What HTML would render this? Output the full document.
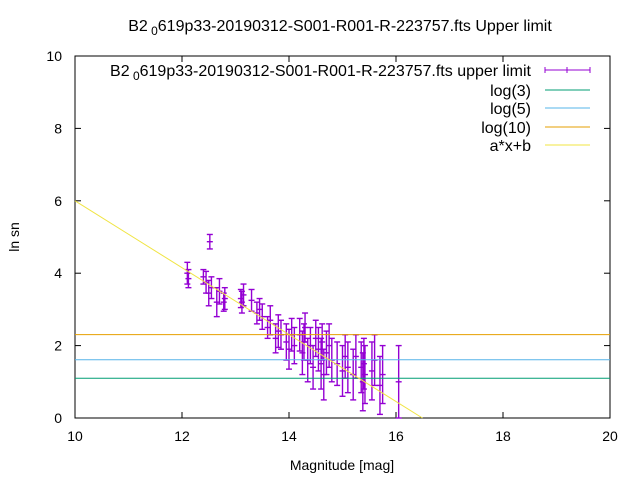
<!DOCTYPE html>
<html><head><meta charset="utf-8"><style>
body{margin:0;background:#fff}
svg text{font-family:"Liberation Sans",sans-serif;font-size:14px;fill:#000}
svg text.big{font-size:16px}
</style></head><body>
<svg id="chart" width="640" height="480" xmlns="http://www.w3.org/2000/svg">
<rect width="640" height="480" fill="#fff"/>
<text class="big" x="340" y="31" text-anchor="middle">B2<tspan dy="4" font-size="12"> 0</tspan><tspan dy="-4">619p33-20190312-S001-R001-R-223757.fts Upper limit</tspan></text>
<g id="axes"></g>
<g id="marks"></g>
<text x="342" y="470" text-anchor="middle">Magnitude [mag]</text>
<text transform="translate(19,237) rotate(-90)" text-anchor="middle">ln sn</text>
<g>
<text class="big" x="531" y="76" text-anchor="end">B2<tspan dy="4" font-size="12"> 0</tspan><tspan dy="-4">619p33-20190312-S001-R001-R-223757.fts upper limit</tspan></text>
<line x1="545" y1="70" x2="590" y2="70" stroke="#9400d3"/><line x1="545" y1="67" x2="545" y2="73" stroke="#9400d3"/><line x1="590" y1="67" x2="590" y2="73" stroke="#9400d3"/><line x1="567" y1="67" x2="567" y2="73" stroke="#9400d3"/>
<text class="big" x="531" y="96" text-anchor="end">log(3)</text><line x1="545" y1="90" x2="590" y2="90" stroke="#009e73"/>
<text class="big" x="531" y="114" text-anchor="end">log(5)</text><line x1="545" y1="108" x2="590" y2="108" stroke="#56b4e9"/>
<text class="big" x="531" y="133" text-anchor="end">log(10)</text><line x1="545" y1="127" x2="590" y2="127" stroke="#e69f00"/>
<text class="big" x="531" y="151" text-anchor="end">a*x+b</text><line x1="545" y1="145" x2="590" y2="145" stroke="#f0e442"/>
</g>
</svg>
<script>
const mags=[12.1,12.12,12.4,12.45,12.5,12.52,12.55,12.65,12.7,12.8,12.78,13.1,13.12,13.15,13.3,13.4,13.45,13.5,13.6,13.65,13.75,13.8,13.85,13.95,14.0,14.05,14.1,14.2,14.25,14.28,14.3,14.35,14.4,14.45,14.5,14.55,14.6,14.62,14.65,14.7,14.75,14.8,14.9,15.0,15.05,15.1,15.2,15.25,15.35,15.38,15.4,15.42,15.55,15.6,15.7,15.75,16.05];
const sn=[4.0,3.85,3.9,3.75,3.45,4.87,3.6,3.2,3.5,3.3,3.2,3.3,3.2,3.4,3.25,2.9,3.0,2.8,2.5,2.7,2.2,2.4,2.3,2.1,1.9,2.3,2.0,2.3,1.8,2.1,2.5,1.6,2.0,1.4,2.2,1.9,1.5,2.1,1.2,1.8,2.0,1.6,1.5,1.3,1.7,1.4,1.2,1.7,1.4,1.0,1.5,1.2,1.3,1.6,0.9,1.2,1.0];
const errs=[0.3,0.25,0.2,0.3,0.35,0.2,0.3,0.4,0.35,0.3,0.25,0.25,0.3,0.3,0.3,0.3,0.3,0.35,0.3,0.4,0.4,0.45,0.4,0.5,0.55,0.45,0.5,0.45,0.6,0.5,0.4,0.6,0.5,0.6,0.5,0.6,0.7,0.5,0.7,0.6,0.6,0.6,0.6,0.7,0.6,0.7,0.7,0.6,0.7,0.8,0.7,0.8,0.8,0.7,0.8,0.8,1.0];
const xTicks=[10,12,14,16,18,20];
const yTicks=[0,2,4,6,8,10];
const hLines=[Math.log(3),Math.log(5),Math.log(10)];
const fitA=-0.924, fitB=15.24;
const X=v=>75+(v-10)*53.5, Y=v=>418-v*36.2;
const NS="http://www.w3.org/2000/svg";
function mk(t,a,p){const e=document.createElementNS(NS,t);for(const k in a)e.setAttribute(k,a[k]);p.appendChild(e);return e;}
const axes=document.getElementById('axes'), marks=document.getElementById('marks');
const frame=mk('rect',{x:75,y:56,width:535,height:362,fill:'none',stroke:'#000'},axes);


xTicks.forEach(t=>{
 mk('line',{x1:X(t),y1:418,x2:X(t),y2:412,stroke:'#000'},axes);
 mk('line',{x1:X(t),y1:56,x2:X(t),y2:62,stroke:'#000'},axes);
 const tx=mk('text',{x:X(t),y:441,'text-anchor':'middle'},axes);tx.textContent=t;
 
 
});
yTicks.forEach(t=>{
 mk('line',{x1:75,y1:Y(t),x2:81,y2:Y(t),stroke:'#000'},axes);
 mk('line',{x1:610,y1:Y(t),x2:604,y2:Y(t),stroke:'#000'},axes);
 const tx=mk('text',{x:62,y:Y(t)+5,'text-anchor':'end'},axes);tx.textContent=t;
 
 
});
mags.forEach((m,i)=>{
 const g=mk('g',{stroke:'#9400d3','stroke-width':1.4},marks);
 
 
 const x=X(m),y1=Y(sn[i]-errs[i]),y2=Y(sn[i]+errs[i]),y0=Y(sn[i]);
 mk('line',{x1:x,y1:y1,x2:x,y2:y2},g);
 mk('line',{x1:x-3,y1:y1,x2:x+3,y2:y1},g);
 mk('line',{x1:x-3,y1:y2,x2:x+3,y2:y2},g);
 mk('line',{x1:x-3,y1:y0,x2:x+3,y2:y0},g);
});
const cols=['#009e73','#56b4e9','#e69f00'];
hLines.forEach((v,i)=>{
 const l=mk('line',{x1:75,y1:Y(v),x2:610,y2:Y(v),stroke:cols[i]},marks);
 
 
});
const x0=10,x1=-fitB/fitA;
const fit=mk('line',{x1:X(x0),y1:Y(fitA*x0+fitB),x2:X(x1),y2:Y(0),stroke:'#f0e442'},marks);


</script>
</body></html>
